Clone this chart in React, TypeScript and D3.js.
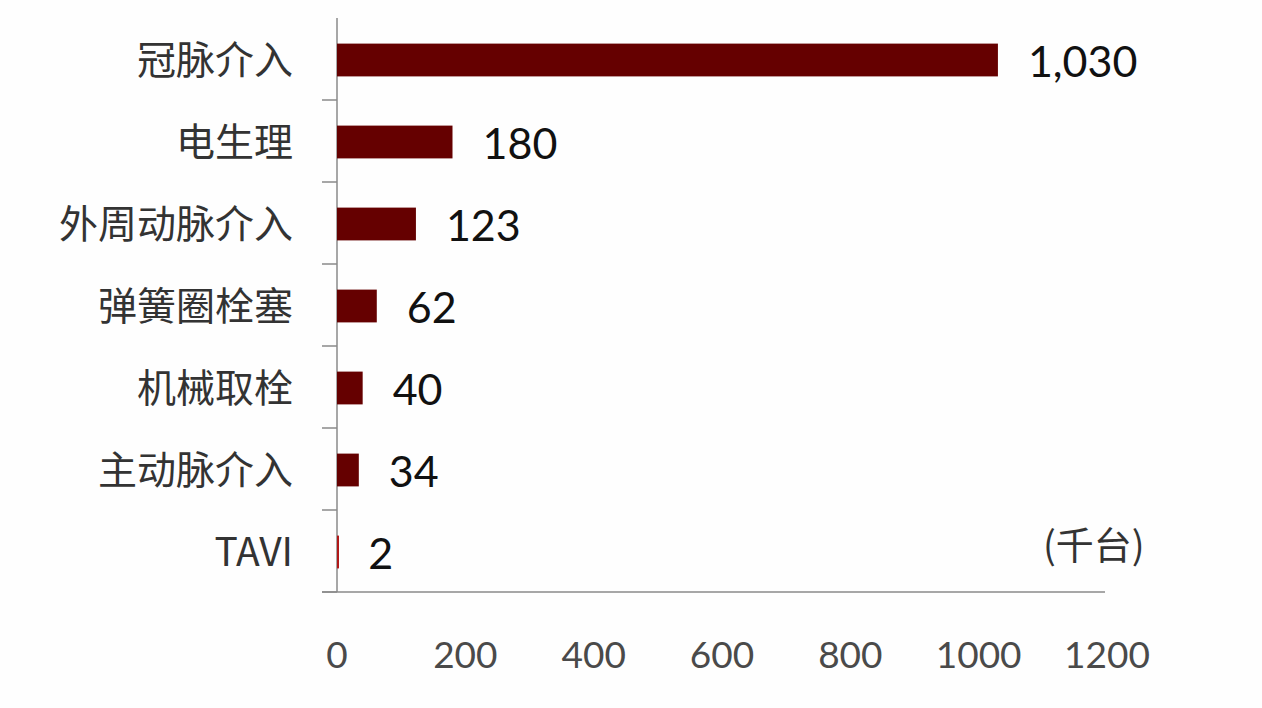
import React from "react";
import * as d3 from "d3";

const categories = ["冠脉介入", "电生理", "外周动脉介入", "弹簧圈栓塞", "机械取栓", "主动脉介入", "TAVI"];
const values = [1030, 180, 123, 62, 40, 34, 2];
const valueLabels = ["1,030", "180", "123", "62", "40", "34", "2"];
const xTicks = [0, 200, 400, 600, 800, 1000, 1200];
const unitLabel = "(千台)";

export default function App() {
  const W = 1262, H = 708;
  const x0 = 337, x1 = 1107;
  const yTop = 18, yBot = 592;
  const x = d3.scaleLinear().domain([0, 1200]).range([x0, x1]);
  const y = d3.scaleBand().domain(categories).range([yTop + 1, yBot + 1]).paddingInner(0.6).paddingOuter(0.3);
  const band = d3.scaleBand().domain(categories).range([yTop, yBot]);
  const axisColor = "#8a8a8a";
  const barColor = "#650000";
  const cjk = "'Noto Sans CJK SC', 'Noto Sans', sans-serif";
  const num = "Lato, 'Open Sans', sans-serif";
  return (
    <svg width={W} height={H} style={{ position: "absolute", left: 0, top: 0, background: "#fefefe" }}>
      <line x1={x0} x2={x0} y1={yTop} y2={yBot} stroke={axisColor} strokeWidth={1.5} />
      {categories.map((c, i) => (
        <line key={"t" + i} x1={322} x2={x0} y1={(band(c) as number) + band.bandwidth()} y2={(band(c) as number) + band.bandwidth()} stroke={axisColor} strokeWidth={1.5} />
      ))}
      <line x1={322} x2={x(1200) - 2} y1={yBot} y2={yBot} stroke={axisColor} strokeWidth={1.5} />
      {xTicks.map((t) => (
        <text key={t} x={x(t)} y={668} textAnchor="middle" fontFamily={num} fontSize={37} fill="#4a4a4a">
          {t}
        </text>
      ))}
      {categories.map((c, i) => (
        <g key={c}>
          <rect x={x0} y={y(c)} width={Math.max(x(values[i]) - x0, 2)} height={y.bandwidth()} fill={i === 6 ? "#b01818" : barColor} />
          <text x={x(values[i]) + 30} y={(y(c) as number) + y.bandwidth() / 2 + 17} fontFamily={num} fontSize={43} fill="#111">
            {valueLabels[i]}
          </text>
          <text x={293} y={(y(c) as number) + y.bandwidth() / 2 + 14} textAnchor="end" fontFamily={cjk} fontSize={39} fill="#333">
            {c}
          </text>
        </g>
      ))}
      <text x={1043} y={559} fontFamily={cjk} fontSize={38} fill="#333">{unitLabel}</text>
    </svg>
  );
}
